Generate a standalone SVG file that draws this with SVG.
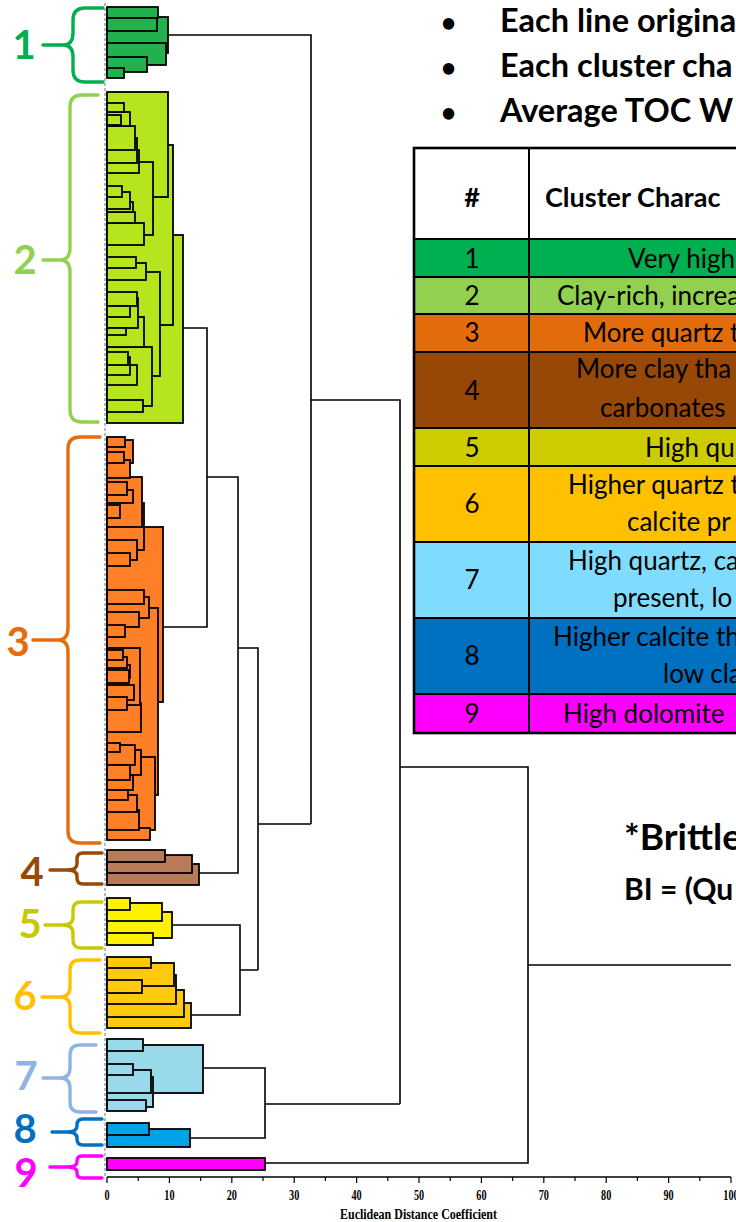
<svg xmlns="http://www.w3.org/2000/svg" width="736" height="1222" viewBox="0 0 736 1222">
<style>
.bar{stroke:#000;stroke-width:1.8}
.c1{fill:#22B14C}.c2{fill:#B5E61D}.c3{fill:#FF7F27}.c4{fill:#B97A57}.c5{fill:#FFF200}
.c6{fill:#FFC90E}.c7{fill:#99D9EA}.c8{fill:#00A2E8}.c9{fill:#FF00FF}
.con{fill:none;stroke:#000;stroke-width:1.6}
.brace{fill:none;stroke-width:3.4;stroke-linecap:round;stroke-linejoin:round}
.lbl{font-family:Lato,'Liberation Sans',sans-serif;font-weight:bold;font-size:40px;text-anchor:middle}
.tt{font-family:Lato,'Liberation Sans',sans-serif;font-size:26px;fill:#000}
.th{font-family:Lato,'Liberation Sans',sans-serif;font-size:27px;font-weight:bold;fill:#000}
.num{text-anchor:middle}
.bul{font-family:Lato,'Liberation Sans',sans-serif;font-size:32.5px;font-weight:bold;fill:#000}
.ax{font-family:'Liberation Serif',serif;font-weight:bold;font-size:15px;text-anchor:middle;fill:#000}
.grid{stroke:#000;stroke-width:2;fill:none}
</style>

<line x1="105" y1="3" x2="105" y2="1176" stroke="#7f8fa0" stroke-width="1.2" stroke-dasharray="3,2"/>

<g id="cluster1" class="bar c1">
<rect x="107" y="17" width="61" height="36"/>
<rect x="107" y="43" width="59" height="22"/>
<rect x="107" y="7" width="51" height="11"/>
<rect x="107" y="18" width="50" height="13"/>
<rect x="107" y="57" width="40" height="15"/>
<rect x="107" y="68" width="17" height="10"/>
</g>

<g id="cluster2" class="bar c2">
<rect x="107" y="235" width="76" height="188"/>
<rect x="107" y="145" width="66" height="180"/>
<rect x="107" y="92" width="61" height="105"/>
<rect x="107" y="272" width="53" height="104"/>
<rect x="107" y="162" width="46" height="73"/>
<rect x="107" y="347" width="45" height="59"/>
<rect x="107" y="263" width="39" height="17"/>
<rect x="107" y="223" width="37" height="22"/>
<rect x="107" y="317" width="37" height="30"/>
<rect x="107" y="400" width="36" height="12"/>
<rect x="107" y="150" width="32" height="23"/>
<rect x="107" y="298" width="31" height="30"/>
<rect x="107" y="138" width="30" height="25"/>
<rect x="107" y="292" width="30" height="14"/>
<rect x="107" y="365" width="30" height="20"/>
<rect x="107" y="257" width="29" height="11"/>
<rect x="107" y="126" width="28" height="24"/>
<rect x="107" y="212" width="28" height="11"/>
<rect x="107" y="202" width="26" height="10"/>
<rect x="107" y="112" width="23" height="14"/>
<rect x="107" y="192" width="23" height="17"/>
<rect x="107" y="306" width="23" height="11"/>
<rect x="107" y="357" width="23" height="18"/>
<rect x="107" y="352" width="21" height="13"/>
<rect x="107" y="328" width="19" height="7"/>
<rect x="107" y="103" width="17" height="9"/>
<rect x="107" y="186" width="15" height="11"/>
<rect x="107" y="115" width="14" height="10"/>
</g>

<g id="cluster3" class="bar c3">
<rect x="107" y="527" width="56" height="175"/>
<rect x="107" y="608" width="51" height="187"/>
<rect x="107" y="757" width="48" height="73"/>
<rect x="107" y="828" width="43" height="12"/>
<rect x="107" y="597" width="42" height="21"/>
<rect x="107" y="503" width="37" height="47"/>
<rect x="107" y="590" width="37" height="14"/>
<rect x="107" y="477" width="35" height="50"/>
<rect x="107" y="703" width="34" height="29"/>
<rect x="107" y="750" width="34" height="25"/>
<rect x="107" y="648" width="33" height="57"/>
<rect x="107" y="612" width="32" height="15"/>
<rect x="107" y="810" width="32" height="20"/>
<rect x="107" y="540" width="30" height="20"/>
<rect x="107" y="795" width="30" height="17"/>
<rect x="107" y="745" width="28" height="20"/>
<rect x="107" y="685" width="27" height="15"/>
<rect x="107" y="440" width="26" height="23"/>
<rect x="107" y="490" width="26" height="13"/>
<rect x="107" y="775" width="26" height="15"/>
<rect x="107" y="460" width="23" height="18"/>
<rect x="107" y="553" width="23" height="13"/>
<rect x="107" y="665" width="23" height="13"/>
<rect x="107" y="765" width="23" height="15"/>
<rect x="107" y="670" width="22" height="13"/>
<rect x="107" y="790" width="21" height="10"/>
<rect x="107" y="482" width="20" height="13"/>
<rect x="107" y="657" width="20" height="11"/>
<rect x="107" y="697" width="20" height="13"/>
<rect x="107" y="437" width="18" height="10"/>
<rect x="107" y="625" width="18" height="12"/>
<rect x="107" y="452" width="17" height="11"/>
<rect x="107" y="650" width="16" height="10"/>
<rect x="107" y="505" width="13" height="13"/>
<rect x="107" y="743" width="13" height="9"/>
</g>

<g id="cluster4" class="bar c4">
<rect x="107" y="864" width="92" height="21"/>
<rect x="107" y="855" width="85" height="18"/>
<rect x="107" y="850" width="58" height="12"/>
</g>

<g id="cluster5" class="bar c5">
<rect x="107" y="912" width="65" height="26"/>
<rect x="107" y="903" width="55" height="18"/>
<rect x="107" y="933" width="46" height="12"/>
<rect x="107" y="898" width="23" height="12"/>
</g>

<g id="cluster6" class="bar c6">
<rect x="107" y="1003" width="84" height="25"/>
<rect x="107" y="990" width="77" height="27"/>
<rect x="107" y="975" width="69" height="29"/>
<rect x="107" y="963" width="67" height="23"/>
<rect x="107" y="957" width="44" height="11"/>
<rect x="107" y="980" width="35" height="13"/>
</g>

<g id="cluster7" class="bar c7">
<rect x="107" y="1045" width="96" height="48"/>
<rect x="107" y="1077" width="46" height="30"/>
<rect x="107" y="1070" width="44" height="23"/>
<rect x="107" y="1100" width="39" height="11"/>
<rect x="107" y="1039" width="36" height="12"/>
<rect x="107" y="1064" width="26" height="11"/>
</g>

<g id="cluster8" class="bar c8">
<rect x="107" y="1129" width="83" height="18"/>
<rect x="107" y="1123" width="42" height="12"/>
</g>

<g id="cluster9" class="bar c9">
<rect x="107" y="1158" width="158" height="12"/>
</g>

<g id="connectors" class="con">
<path d="M168,35 H311 V824 M183,328 H207 V627 H163 M207,477 H238 V873 H199 M238,648 H258 V970 M172,925 H240 V1015 H191 M240,970 H258 M258,824 H311 M311,400 H400 V1104 M203,1068 H265 V1138 H190 M265,1104 H400 M400,767 H528 V1163 H265 M528,965 H731"/>
</g>

<g id="braces">
<path class="brace" stroke="#00B050" d="M103,8 L85,8 Q73,8 73,20 L73,33 Q73,45 63,45 Q73,45 73,57 L73,70 Q73,82 85,82 L103,82 M43,45 L63,45"/>
<path class="brace" stroke="#92D050" d="M98,95 L82,95 Q70,95 70,107 L70,248 Q70,260 60,260 Q70,260 70,272 L70,410 Q70,422 82,422 L98,422 M43,260 L60,260"/>
<path class="brace" stroke="#E46C0A" d="M100,437 L80,437 Q68,437 68,449 L68,628 Q68,640 58,640 Q68,640 68,652 L68,831 Q68,843 80,843 L100,843 M33,640 L58,640"/>
<path class="brace" stroke="#984807" d="M102,853 L83,853 Q77,853 77,859 L77,864 Q77,870 67,870 Q77,870 77,876 L77,878 Q77,884 83,884 L102,884 M50,870 L67,870"/>
<path class="brace" stroke="#C9C900" d="M102,902 L81,902 Q73,902 73,910 L73,917 Q73,925 63,925 Q73,925 73,933 L73,940 Q73,948 81,948 L102,948 M45,925 L63,925"/>
<path class="brace" stroke="#FFC000" d="M100,960 L80,960 Q70,960 70,970 L70,987 Q70,997 60,997 Q70,997 70,1007 L70,1023 Q70,1033 80,1033 L100,1033 M42,997 L60,997"/>
<path class="brace" stroke="#8EB4E3" d="M96,1045 L80,1045 Q70,1045 70,1055 L70,1068 Q70,1078 60,1078 Q70,1078 70,1088 L70,1102 Q70,1112 80,1112 L96,1112 M43,1078 L60,1078"/>
<path class="brace" stroke="#0070C0" d="M102,1119 L83,1119 Q77,1119 77,1125 L77,1126 Q77,1132 67,1132 Q77,1132 77,1138 L77,1139 Q77,1145 83,1145 L102,1145 M52,1132 L67,1132"/>
<path class="brace" stroke="#FF00FF" d="M102,1156 L82,1156 Q77,1156 77,1161 L77,1162 Q77,1167 67,1167 Q77,1167 77,1172 L77,1173 Q77,1178 82,1178 L102,1178 M50,1167 L67,1167"/>
</g>

<g id="labels" class="lbl">
<text x="24" y="59" fill="#00B050">1</text>
<text x="25" y="274" fill="#92D050">2</text>
<text x="18" y="656" fill="#E46C0A">3</text>
<text x="32" y="886" fill="#984807">4</text>
<text x="30" y="938" fill="#C9C900">5</text>
<text x="25" y="1010" fill="#FFC000">6</text>
<text x="26" y="1090" fill="#8EB4E3">7</text>
<text x="25" y="1143" fill="#0070C0">8</text>
<text x="26" y="1187" fill="#FF00FF">9</text>
</g>

<g id="axis">
<line x1="107" y1="1177" x2="731" y2="1177" stroke="#000" stroke-width="1.3"/>
<path stroke="#000" stroke-width="1.2" d="M107,1177v6 M138.2,1177v4 M169.4,1177v6 M200.6,1177v4 M231.8,1177v6 M263,1177v4 M294.2,1177v6 M325.4,1177v4 M356.6,1177v6 M387.8,1177v4 M419,1177v6 M450.2,1177v4 M481.4,1177v6 M512.6,1177v4 M543.8,1177v6 M575,1177v4 M606.2,1177v6 M637.4,1177v4 M668.6,1177v6 M699.8,1177v4 M731,1177v6"/>
<g class="ax">
<text transform="translate(107,1200) scale(0.68,1)">0</text>
<text transform="translate(169.4,1200) scale(0.68,1)">10</text>
<text transform="translate(231.8,1200) scale(0.68,1)">20</text>
<text transform="translate(294.2,1200) scale(0.68,1)">30</text>
<text transform="translate(356.6,1200) scale(0.68,1)">40</text>
<text transform="translate(419,1200) scale(0.68,1)">50</text>
<text transform="translate(481.4,1200) scale(0.68,1)">60</text>
<text transform="translate(543.8,1200) scale(0.68,1)">70</text>
<text transform="translate(606.2,1200) scale(0.68,1)">80</text>
<text transform="translate(668.6,1200) scale(0.68,1)">90</text>
<text transform="translate(731,1200) scale(0.68,1)">100</text>
</g>
<text x="340" y="1219" font-family="'Liberation Serif',serif" font-weight="bold" font-size="14" textLength="157" lengthAdjust="spacingAndGlyphs">Euclidean Distance Coefficient</text>
</g>

<g id="bullets" class="bul">
<text x="441" y="32" font-size="26">•</text><text x="500" y="32">Each line origina</text>
<text x="441" y="77" font-size="26">•</text><text x="500" y="77">Each cluster cha</text>
<text x="441" y="122" font-size="26">•</text><text x="500" y="122">Average TOC W</text>
</g>

<g id="table">
<rect x="414" y="148" width="330" height="91" fill="#fff"/>
<rect x="414" y="239" width="330" height="38" fill="#00B050"/>
<rect x="414" y="277" width="330" height="37" fill="#92D050"/>
<rect x="414" y="314" width="330" height="38" fill="#E26B0A"/>
<rect x="414" y="352" width="330" height="76" fill="#974706"/>
<rect x="414" y="428" width="330" height="38" fill="#CCCC00"/>
<rect x="414" y="466" width="330" height="76" fill="#FFC000"/>
<rect x="414" y="542" width="330" height="76" fill="#80DCFF"/>
<rect x="414" y="618" width="330" height="76" fill="#0070C0"/>
<rect x="414" y="694" width="330" height="39" fill="#FF00FF"/>
<path class="grid" d="M414,239H744 M414,277H744 M414,314H744 M414,352H744 M414,428H744 M414,466H744 M414,542H744 M414,618H744 M414,694H744 M529,148V733"/>
<rect x="414" y="148" width="330" height="585" fill="none" stroke="#000" stroke-width="2.6"/>
<text class="th num" x="472" y="207">#</text>
<text class="th" x="545" y="207">Cluster Charac</text>
<g class="tt">
<text class="num" x="472" y="268">1</text><text x="628" y="268">Very high</text>
<text class="num" x="472" y="305">2</text><text x="557" y="305">Clay-rich, increa</text>
<text class="num" x="472" y="342">3</text><text x="583" y="342">More quartz t</text>
<text class="num" x="472" y="400">4</text><text x="576" y="378">More clay tha</text><text x="600" y="417">carbonates</text>
<text class="num" x="472" y="457">5</text><text x="645" y="457">High qu</text>
<text class="num" x="472" y="513">6</text><text x="568" y="494">Higher quartz t</text><text x="627" y="531">calcite pr</text>
<text class="num" x="472" y="589">7</text><text x="568" y="570">High quartz, ca</text><text x="613" y="607">present, lo</text>
<text class="num" x="472" y="665">8</text><text x="553" y="646">Higher calcite th</text><text x="663" y="683">low cla</text>
<text class="num" x="472" y="723">9</text><text x="563" y="723">High dolomite</text>
</g>
</g>

<g id="brittle">
<text x="624" y="850" font-family="Lato,'Liberation Sans',sans-serif" font-weight="bold" font-size="37">*Brittle</text>
<text x="624" y="900" font-family="Lato,'Liberation Sans',sans-serif" font-weight="bold" font-size="30">BI = (Qu</text>
</g>
</svg>
